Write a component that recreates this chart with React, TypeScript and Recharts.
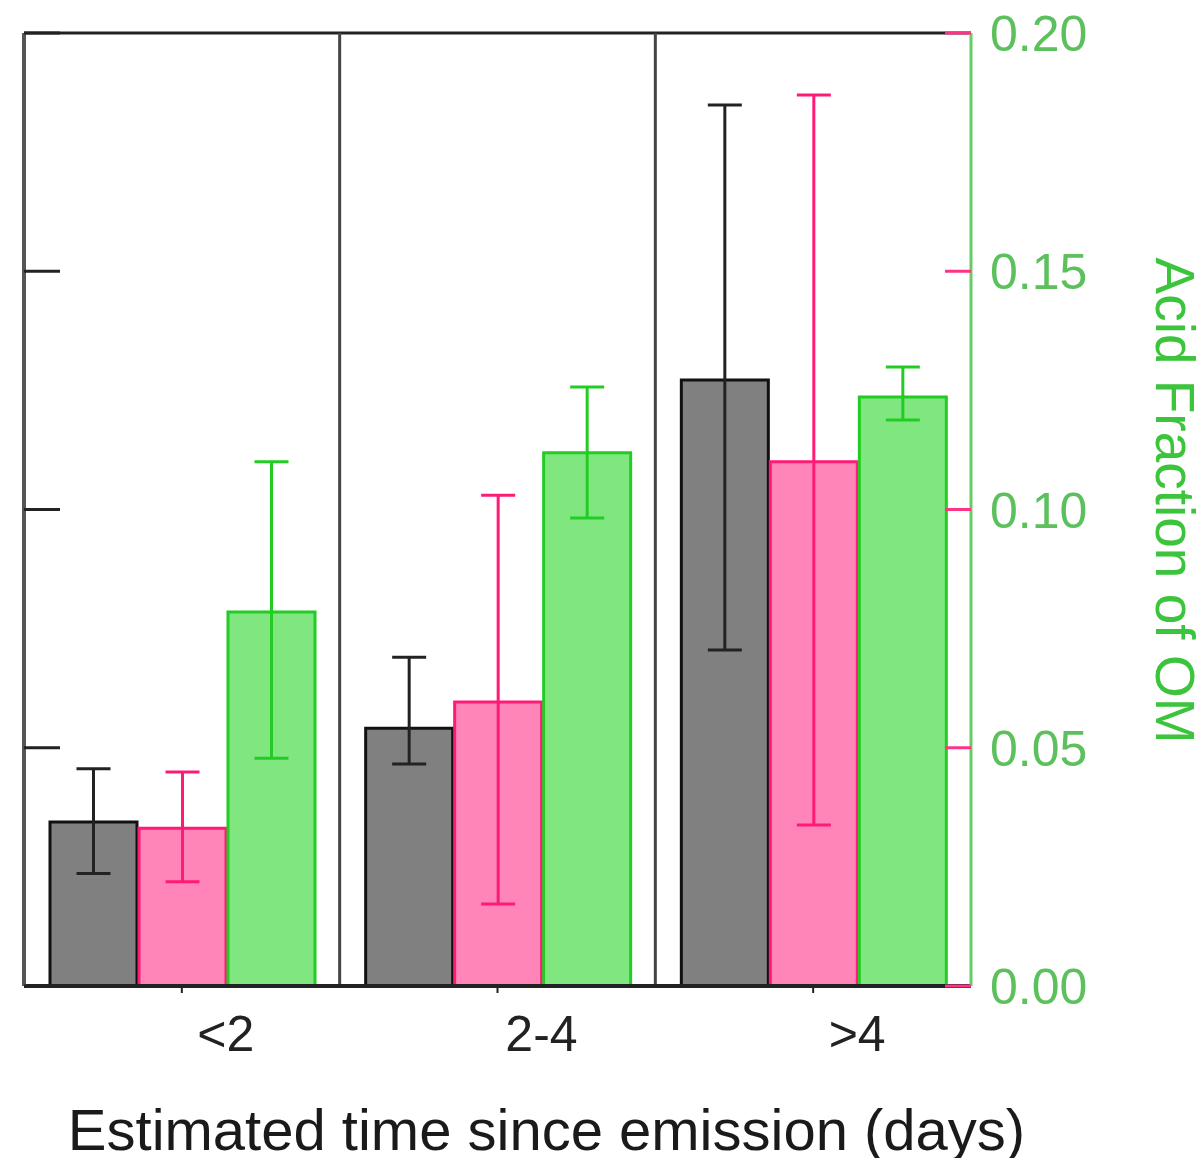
import React from 'react';
import { BarChart, Bar, XAxis, YAxis, ErrorBar, ReferenceLine } from 'recharts';

const categories = ['<2', '2-4', '>4'];

const blackValues = [0.0344, 0.0541, 0.1272];
const blackLow = [0.0236, 0.0466, 0.0705];
const blackHigh = [0.0456, 0.069, 0.1849];

const pinkValues = [0.0331, 0.0596, 0.110];
const pinkLow = [0.0219, 0.0172, 0.0338];
const pinkHigh = [0.0449, 0.103, 0.187];

const greenValues = [0.0785, 0.1119, 0.1236];
const greenLow = [0.0478, 0.0982, 0.1188];
const greenHigh = [0.110, 0.1257, 0.1299];

const yTicks = [0, 0.05, 0.1, 0.15, 0.2];
const dividers = [1, 2];

const data = categories.map((name, i) => ({
  name,
  pos: i + 0.5,
  black: blackValues[i],
  blackErr: [blackValues[i] - blackLow[i], blackHigh[i] - blackValues[i]],
  pink: pinkValues[i],
  pinkErr: [pinkValues[i] - pinkLow[i], pinkHigh[i] - pinkValues[i]],
  green: greenValues[i],
  greenErr: [greenValues[i] - greenLow[i], greenHigh[i] - greenValues[i]],
}));

const FONT = '"Liberation Sans", Arial, sans-serif';

// inward black tick marks on the unlabeled left axis
const LeftTick = ({ x, y }: any) => (
  <line x1={x} x2={x + 36} y1={y} y2={y} stroke="#222" strokeWidth={3} />
);

const RightTick = ({ x, y, payload }: any) => (
  <g>
    <line x1={x - 26} x2={x} y1={y} y2={y} stroke="#ff3385" strokeWidth={3} />
    <text x={x + 19} y={y} dy={18} fill="#5cc05c" fontSize={50} fontFamily={FONT}>
      {Number(payload.value).toFixed(2)}
    </text>
  </g>
);

const BottomTick = ({ x, y, payload }: any) => (
  <text x={x + 44} y={y} dy={58} textAnchor="middle" fill="#222" fontSize={50} fontFamily={FONT}>
    {payload.value}
  </text>
);

const XTitle = ({ viewBox }: any) => (
  <text
    x={viewBox.x + viewBox.width / 2 + 49}
    y={viewBox.y + 164}
    textAnchor="middle"
    fill="#1a1a1a"
    fontSize={58}
    fontFamily={FONT}
  >
    Estimated time since emission (days)
  </text>
);

const RightTitle = ({ viewBox }: any) => {
  const bx = viewBox.x + 185;
  const cy = viewBox.y + viewBox.height / 2 - 9;
  return (
    <text
      x={bx}
      y={cy}
      transform={`rotate(90 ${bx} ${cy})`}
      textAnchor="middle"
      fill="#3cc43c"
      fontSize={55}
      fontFamily={FONT}
    >
      Acid Fraction of OM
    </text>
  );
};

export default function App() {
  return (
    <BarChart
      width={1196}
      height={1150}
      data={data}
      margin={{ top: 25, right: 0, bottom: 0, left: 14 }}
      barCategoryGap={26}
      barGap={2}
    >
      <XAxis
        dataKey="name"
        xAxisId="cat"
        height={172}
        axisLine={{ stroke: '#222', strokeWidth: 4 }}
        tickLine={{ stroke: '#222', strokeWidth: 2 }}
        tickSize={7}
        tickMargin={0}
        tick={<BottomTick />}
        label={<XTitle />}
      />
      <XAxis
        xAxisId="frame"
        dataKey="pos"
        orientation="top"
        type="number"
        domain={[0, 3]}
        allowDataOverflow
        hide
      />
      <YAxis
        yAxisId="left"
        orientation="left"
        width={2}
        type="number"
        domain={[0, 0.2]}
        ticks={yTicks}
        interval={0}
        tickSize={0}
        tickMargin={0}
        tickLine={false}
        tick={<LeftTick />}
        axisLine={{ stroke: '#555', strokeWidth: 4 }}
      />
      <YAxis
        yAxisId="right"
        orientation="right"
        width={233}
        type="number"
        domain={[0, 0.2]}
        ticks={yTicks}
        interval={0}
        tickSize={0}
        tickMargin={0}
        tickLine={false}
        tick={<RightTick />}
        axisLine={{ stroke: '#66cc66', strokeWidth: 3 }}
        label={<RightTitle />}
      />
      <ReferenceLine y={0.2} yAxisId="right" xAxisId="cat" stroke="#222" strokeWidth={3} />
      {dividers.map((d) => (
        <ReferenceLine key={d} x={d} xAxisId="frame" yAxisId="right" stroke="#444" strokeWidth={3} />
      ))}
      <Bar dataKey="black" xAxisId="cat" yAxisId="left" fill="#808080" stroke="#111" strokeWidth={3} isAnimationActive={false}>
        <ErrorBar dataKey="blackErr" direction="y" width={17} stroke="#222" strokeWidth={3} />
      </Bar>
      <Bar dataKey="pink" xAxisId="cat" yAxisId="right" fill="#ff85b8" stroke="#ff1a75" strokeWidth={3} isAnimationActive={false}>
        <ErrorBar dataKey="pinkErr" direction="y" width={17} stroke="#ff1a75" strokeWidth={3} />
      </Bar>
      <Bar dataKey="green" xAxisId="cat" yAxisId="right" fill="#80e680" stroke="#22cc22" strokeWidth={3} isAnimationActive={false}>
        <ErrorBar dataKey="greenErr" direction="y" width={17} stroke="#22cc22" strokeWidth={3} />
      </Bar>
    </BarChart>
  );
}
